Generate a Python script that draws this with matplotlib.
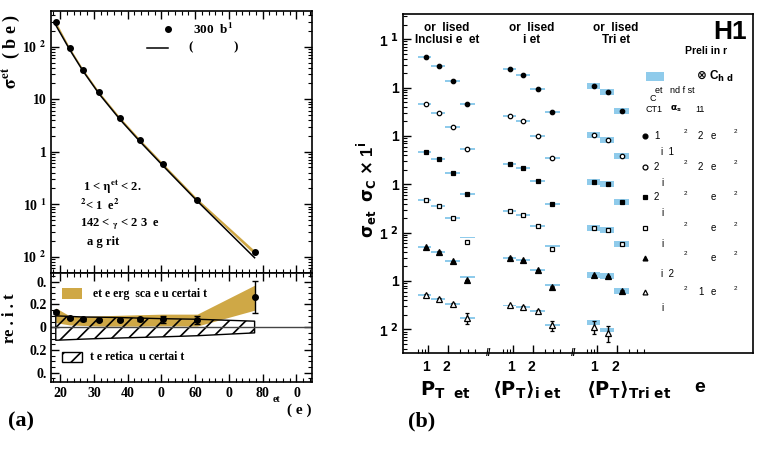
import numpy as np
import matplotlib
matplotlib.use("Agg")
import matplotlib.pyplot as plt
from matplotlib.patches import Rectangle
from matplotlib.ticker import MultipleLocator, LogLocator, NullFormatter
from matplotlib.transforms import blended_transform_factory

plt.rcParams["font.family"] = ["Liberation Serif", "DejaVu Serif"]
plt.rcParams["font.weight"] = "bold"
plt.rcParams["mathtext.fontset"] = "stix"
plt.rcParams["mathtext.default"] = "bf"
plt.rcParams["hatch.linewidth"] = 1.2
plt.rcParams["axes.linewidth"] = 1.2

SANS = ["Liberation Sans", "DejaVu Sans"]
GOLD = "#cfa846"
BLUE = "#8fcbeb"
W, H = 760, 458

# ---------------- (a) inclusive jet cross section vs E_T ----------------
et_centres = [18.7, 22.8, 26.8, 31.5, 37.7, 43.7, 50.4, 60.6, 77.6]
xsec_data = [292, 95.7, 36.5, 13.5, 4.38, 1.65, 0.583, 0.122, 0.0121]
ratio_data = [0.13, 0.082, 0.068, 0.062, 0.062, 0.068, 0.070, 0.062, 0.267]
ratio_err = [0.010, 0.010, 0.010, 0.010, 0.010, 0.012, 0.030, 0.036, 0.140]
jes_lo = [0.04, 0.02, 0.015, 0.01, 0.01, 0.01, 0.012, 0.01, 0.15]
jes_hi = [0.17, 0.10, 0.095, 0.10, 0.105, 0.11, 0.115, 0.115, 0.37]
theo_lo = [-0.115, -0.11, -0.105, -0.10, -0.095, -0.09, -0.085, -0.075, -0.05]
theo_hi = [0.10, 0.095, 0.09, 0.088, 0.085, 0.08, 0.075, 0.07, 0.053]

et_ticks = [20, 30, 40, 50, 60, 70, 80, 90]
et_ticklabels = ["20", "30", "40", "0", "60", "0", "80", "0"]
xsec_ticks = [1e-2, 1e-1, 1, 10, 1e2]
xsec_ticklabels = ["10 $^{2}$", "10 $^{1}$", "1", "10", "10 $^{2}$"]
ratio_ticks = [-0.4, -0.2, 0, 0.2, 0.4]
ratio_ticklabels = ["0.", "0.2", "0", "0.2", "0."]

# ---------------- (b) normalised jet cross sections ----------------
pt_edges = [7, 11, 18, 30, 50]
pt_incl = [9.1, 14.6, 23.8, 38.7]
pt_dijet = [8.9, 14.2, 23.3, 38.4]
pt_trijet = [9.0, 14.4, 23.8]

incl_xsec = [
    [4.24, 2.80, 1.39, 0.458],
    [0.452, 0.2985, 0.1532, 0.0545],
    [0.0466, 0.0334, 0.01713, 0.0063],
    [0.0048, 0.003556, 0.002035, 0.000649],
    [4.97e-4, 4.03e-4, 2.55e-4, 1.047e-4],
    [5.19e-5, 4.29e-5, 3.38e-5, 1.736e-5],
]
dijet_xsec = [
    [2.43, 1.85, 0.923, 0.309],
    [0.255, 0.201, 0.0998, 0.0345],
    [0.0263, 0.02204, 0.0117, 0.00397],
    [0.00276, 0.002316, 0.001351, 0.000452],
    [3.03e-4, 2.71e-4, 1.685e-4, 7.6e-5],
    [3.13e-5, 2.85e-5, 2.39e-5, 1.21e-5],
]
trijet_xsec = [
    [1.096, 0.80, 0.324],
    [0.1047, 0.0813, 0.0385],
    [0.01131, 0.01014, 0.00424],
    [0.001265, 0.001133, 0.00059],
    [1.328e-4, 1.266e-4, 6.28e-5],
    [1.13e-5, 8.5e-6],
]
# theory / data for the blue boxes
incl_theo_fac = [[1, 1, 1, 1], [1, 1, 1, 1], [1, 1, 1, 1],
                 [1, 1, 1, 1.23], [1, 1, 1, 1.14], [1, 1, 1, 1]]
dijet_theo_fac = [[1, 1, 1, 1], [1, 1, 1, 1], [1, 1, 1, 1],
                  [1, 1, 1, 1.17], [1, 1, 1, 1.08], [1, 1, 1, 1]]
trijet_theo_fac = [[1, 1, 1], [1, 1, 1], [1, 1, 1],
                   [1, 1, 1], [1, 1, 1], [1.23, 1.14]]
# relative stat errors of the lowest row (others are tiny)
incl_err_low = [0.04, 0.05, 0.06, 0.27]
dijet_err_low = [0.04, 0.05, 0.07, 0.22]
trijet_err_low = [0.30, 0.36]
theo_unc = [0.04, 0.04, 0.15]

yb_ticks = [1e1, 1e0, 1e-1, 1e-2, 1e-3, 1e-4, 1e-5]
yb_ticklabels = ["1 $^{1}$", "1", "1", "1", "1 $^{2}$", "1", "1 $^{2}$"]
pt_major = [10, 20]
pt_minor = [7, 8, 9, 30, 40, 50]
group_offsets = [0.386, 1.666, 2.931]
titles = [("or  lised", "Inclusi e  et"), ("or  lised", "i et"), ("or  lised", "Tri et")]
markers = [("o", "k"), ("o", "w"), ("s", "k"), ("s", "w"), ("^", "k"), ("^", "w")]


def ftext(px, py, s, **kw):
    return fig.text(px / W, 1 - py / H, s, **kw)


fig = plt.figure(figsize=(W / 100, H / 100), dpi=100)

# ======================= panel (a) top =======================
ax_top = fig.add_axes([50.7 / W, 1 - 272.7 / H, 261.3 / W, 261.7 / H])
ax_rat = fig.add_axes([50.7 / W, 1 - 381.7 / H, 261.3 / W, 109 / H])

et = np.array(et_centres)
xs = np.array(xsec_data)
rd = np.array(ratio_data)
theory = xs / (1 + rd)
xs_err = np.array(ratio_err) / (1 + rd) * xs

ax_top.fill_between(et, theory * (1 + np.array(jes_lo)), theory * (1 + np.array(jes_hi)),
                    color=GOLD, lw=0, zorder=1)
ax_top.plot(et, theory, "k-", lw=1.1, zorder=2)
ax_top.errorbar(et, xs, yerr=xs_err, fmt="o", color="k", ms=4, elinewidth=1, capsize=0, zorder=3)
ax_top.set_yscale("log")
ax_top.set_ylim(10 ** -2.305, 10 ** 2.68)
ax_top.set_xlim(17.2, 94.6)
ax_top.set_yticks(xsec_ticks, xsec_ticklabels, fontsize=10)
ax_top.yaxis.set_minor_locator(LogLocator(base=10, subs=np.arange(2, 10), numticks=20))
ax_top.yaxis.set_minor_formatter(NullFormatter())
ax_top.xaxis.set_major_locator(MultipleLocator(10))
ax_top.xaxis.set_minor_locator(MultipleLocator(2))
ax_top.tick_params(which="both", direction="in", top=True, right=True, labelbottom=False)
ax_top.tick_params(which="major", length=6, width=1)
ax_top.tick_params(which="minor", length=3, width=0.8)
ax_top.tick_params(axis="y", pad=3)

# legend
ax_top.plot([0.448], [0.931], "ko", ms=4, transform=ax_top.transAxes)
ax_top.text(0.543, 0.931, "300  b$^{1}$", transform=ax_top.transAxes, fontsize=9.5, va="center")
ax_top.plot([0.367, 0.448], [0.860, 0.860], "k-", lw=1.1, transform=ax_top.transAxes)
ax_top.text(0.530, 0.860, "(            )", transform=ax_top.transAxes, fontsize=9.5, va="center")

ftext(82.7, 187, r"1 < $\eta^{et}$ < 2.", fontsize=9, va="center")
ftext(80.5, 205, r"$^{2}$< 1  e$^{2}$", fontsize=9, va="center")
ftext(80, 224, r"142 < $_{\gamma}$ < 2 3  e", fontsize=9, va="center")
ftext(86.7, 242, "a g rit", fontsize=9, va="center")

ftext(11, 52, r"$\sigma^{et}$  ( b e )", rotation=90, fontsize=13, ha="center", va="center")

# ======================= panel (a) ratio =======================
ax_rat.fill_between(et, jes_lo, jes_hi, color=GOLD, lw=0, zorder=1)
ax_rat.fill_between(et, theo_lo, theo_hi, facecolor="none", edgecolor="k", hatch="//", lw=1, zorder=2)
ax_rat.axhline(0, color="#444444", lw=1, zorder=2)
ax_rat.errorbar(et, rd, yerr=ratio_err, fmt="o", color="k", ms=4, elinewidth=1, capsize=2, zorder=3)
ax_rat.set_xlim(17.2, 94.6)
ax_rat.set_ylim(-0.48, 0.48)
ax_rat.set_xticks(et_ticks, et_ticklabels, fontsize=10)
ax_rat.xaxis.set_minor_locator(MultipleLocator(2))
ax_rat.set_yticks(ratio_ticks, ratio_ticklabels, fontsize=10)
ax_rat.yaxis.set_minor_locator(MultipleLocator(0.05))
ax_rat.tick_params(which="both", direction="in", top=True, right=True)
ax_rat.tick_params(which="major", length=6, width=1)
ax_rat.tick_params(which="minor", length=3, width=0.8)
ax_rat.tick_params(axis="y", pad=3)

ax_rat.add_patch(Rectangle((0.042, 0.756), 0.077, 0.101, transform=ax_rat.transAxes,
                           facecolor=GOLD, lw=0))
ax_rat.text(0.161, 0.806, "et e erg  sca e u certai t", transform=ax_rat.transAxes,
            fontsize=8.5, va="center")
ax_rat.add_patch(Rectangle((0.042, 0.183), 0.077, 0.092, transform=ax_rat.transAxes,
                           facecolor="none", edgecolor="k", hatch="//", lw=1))
ax_rat.text(0.152, 0.229, "t e retica  u certai t", transform=ax_rat.transAxes,
            fontsize=8.5, va="center")

ftext(10, 318, "re . i . t", rotation=90, fontsize=12, ha="center", va="center")
ftext(276, 400, "et", fontsize=7, ha="center", va="center")
ftext(299, 410, "( e )", fontsize=11, ha="center", va="center")
ftext(21, 421.7, "(a)", fontsize=16, ha="center", va="center")

# ======================= panel (b) =======================
ax_b = fig.add_axes([402.7 / W, 1 - 352.7 / H, 350.3 / W, 338.7 / H])
ax_b.set_yscale("log")
ax_b.set_ylim(10 ** -5.484, 10 ** 1.523)
ax_b.set_xlim(0, 5.276)


def xmap(pt, off):
    return off + np.log10(np.asarray(pt, float) / 10.0)


groups = [
    (pt_incl, incl_xsec, incl_theo_fac, incl_err_low),
    (pt_dijet, dijet_xsec, dijet_theo_fac, dijet_err_low),
    (pt_trijet, trijet_xsec, trijet_theo_fac, trijet_err_low),
]
for off, unc, (pts, xsec, fac, err_low) in zip(group_offsets, theo_unc, groups):
    for r, row in enumerate(xsec):
        n = len(row)
        row = np.array(row)
        theo = row * np.array(fac[r])
        left = xmap(pt_edges[:n], off)
        right = xmap(pt_edges[1:n + 1], off)
        u = unc if r < 5 or unc < 0.1 else 0.11
        ax_b.bar(left, theo * (1 + u) - theo / (1 + u), width=right - left,
                 bottom=theo / (1 + u), align="edge", color=BLUE, lw=0, zorder=1)
        rel = np.array(err_low) if r == 5 else 0.02
        m, fc = markers[r]
        ax_b.errorbar(xmap(pts[:n], off), row, yerr=row * rel, fmt=m, mfc=fc, mec="k",
                      ms=3.2 if m != "^" else 3.8, mew=0.9, ecolor="k", elinewidth=1,
                      capsize=1.5, zorder=3)

maj = np.concatenate([xmap(pt_major, o) for o in group_offsets])
mnr = np.concatenate([xmap(pt_minor, o) for o in group_offsets])
ax_b.set_xticks(maj, ["1 ", "2 "] * 3, fontsize=10, family=SANS)
ax_b.set_xticks(mnr, minor=True)
ax_b.set_yticks(yb_ticks, yb_ticklabels, fontsize=10, family=SANS, math_fontfamily="dejavusans")
ax_b.yaxis.set_minor_locator(LogLocator(base=10, subs=np.arange(2, 10), numticks=20))
ax_b.yaxis.set_minor_formatter(NullFormatter())
ax_b.tick_params(which="both", direction="in", top=False, right=False)
ax_b.tick_params(which="major", length=5.5, width=1)
ax_b.tick_params(which="minor", length=2.8, width=0.8)
ax_b.tick_params(axis="y", pad=3)
ax_b.tick_params(axis="x", pad=5)

# axis breaks
trans = blended_transform_factory(ax_b.transData, ax_b.transAxes)
for o1, o2 in zip(group_offsets[:-1], group_offsets[1:]):
    xb = 0.5 * (xmap(pt_edges[-1], o1) + xmap(pt_edges[0], o2))
    ax_b.text(xb, 0.0, "//", transform=trans, ha="center", va="center", fontsize=7,
              family=SANS, clip_on=False)

# group titles
for off, (t1, t2) in zip(group_offsets, titles):
    xc = off + 0.28
    ax_b.text(xc, 0.958, t1, transform=trans, ha="center", va="center", fontsize=8.5, family=SANS)
    ax_b.text(xc, 0.923, t2, transform=trans, ha="center", va="center", fontsize=8.5, family=SANS)


def bx(px):
    return (px - 402.7) / 350.3


def by(py):
    return 1 - (py - 14) / 338.7


ax_b.text(bx(730), by(32), "H1", transform=ax_b.transAxes, fontsize=19, ha="center",
          va="center", family=SANS)
ax_b.text(bx(706), by(51), "Preli in r", transform=ax_b.transAxes, fontsize=7.5,
          ha="center", va="center", family=SANS)
ax_b.add_patch(Rectangle((bx(646), by(81)), bx(664) - bx(646), by(71.7) - by(81),
                         transform=ax_b.transAxes, facecolor=BLUE, lw=0))
ax_b.text(bx(696), by(76), r"$\otimes$ C$_{h\ d}$", transform=ax_b.transAxes, fontsize=8.5,
          va="center", family=SANS, math_fontfamily="dejavusans")
small = dict(transform=ax_b.transAxes, va="center", family=SANS, fontweight="normal",
             math_fontfamily="dejavusans")
ax_b.text(bx(655), by(90.7), "et   nd f st", fontsize=6.5, **small)
ax_b.text(bx(650), by(98.7), "C", fontsize=6.5, **small)
ax_b.text(bx(646), by(109), "CT1", fontsize=6.5, **small)
ax_b.text(bx(670), by(109), r"$\alpha_s$", fontsize=6.5, **small)
ax_b.text(bx(695), by(109), "11", fontsize=6.5, **small)

leg_rows = [135.7, 166.7, 197.3, 228.3, 257.7, 292.3]
leg_num1 = ["1", "2", "2", "", "", ""]
leg_num2 = ["2", "2", "", "", "", "1"]
leg_sub = ["i  1", "i", "i", "i", "i  2", "i"]
for r, ypx in enumerate(leg_rows):
    m, fc = markers[r]
    ax_b.plot([bx(645.3)], [by(ypx)], m, mfc=fc, mec="k", ms=3.5, mew=0.9,
              transform=ax_b.transAxes, clip_on=False)
    ax_b.text(bx(654), by(ypx), leg_num1[r], fontsize=7, **small)
    ax_b.text(bx(684), by(ypx - 4), "2", fontsize=4.5, **small)
    ax_b.text(bx(698), by(ypx), leg_num2[r], fontsize=7, **small)
    ax_b.text(bx(711), by(ypx), "e", fontsize=7, **small)
    ax_b.text(bx(734), by(ypx - 4), "2", fontsize=4.5, **small)
    ax_b.text(bx(661), by(ypx + 16), leg_sub[r], fontsize=7, **small)

mkw = dict(family=SANS, math_fontfamily="dejavusans", ha="center", va="center")
ftext(367, 190, r"$\sigma_{et}$  $\sigma_{C}$ $\times$ 1$^{i}$", rotation=90, fontsize=12, **mkw)
ftext(445, 390, r"$P_{T\ \ et}$", fontsize=14, **mkw)
ftext(527, 390, r"$\langle P_T\rangle_{i\ et}$", fontsize=14, **mkw)
ftext(629, 390, r"$\langle P_T\rangle_{Tri\ et}$", fontsize=14, **mkw)
ftext(700, 387, "e", fontsize=14, **mkw)
ftext(422, 421.7, "(b)", fontsize=16, ha="center", va="center")

fig.savefig("out.png", dpi=100)
